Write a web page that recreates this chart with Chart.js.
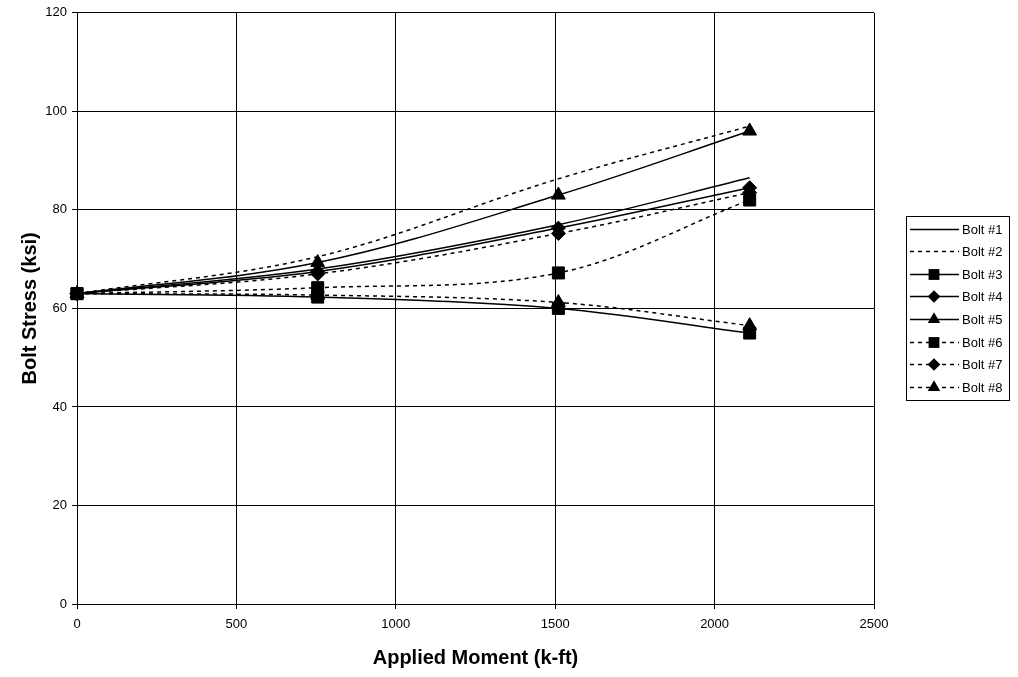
<!DOCTYPE html>
<html>
<head>
<meta charset="utf-8">
<script src="https://cdn.jsdelivr.net/npm/chart.js@4/dist/chart.umd.min.js"></script>
<style>
  html, body { margin: 0; padding: 0; background: #fff; }
  canvas { display: block; }
</style>
</head>
<body>
<canvas id="boltChart" width="1018" height="677"></canvas>
<script>
// applied moment (k-ft) at each load step
const moments = [0, 755, 1510, 2110];

// bolt stress (ksi) per bolt
const bolt1 = [63, 68, 77, 86.5];
const bolt2 = [63, 70.5, 86.3, 97];
const bolt3 = [63, 62.3, 60, 55];
const bolt4 = [63, 67.5, 76.3, 84.5];
const bolt5 = [63, 69.3, 83, 96];
const bolt6 = [63, 64.2, 67.2, 82];
const bolt7 = [63, 67, 75.2, 83.5];
const bolt8 = [63, 62.7, 61.2, 56.5];

const boltLabels = ['Bolt #1', 'Bolt #2', 'Bolt #3', 'Bolt #4', 'Bolt #5', 'Bolt #6', 'Bolt #7', 'Bolt #8'];
const xTicks = [0, 500, 1000, 1500, 2000, 2500];
const yTicks = [0, 20, 40, 60, 80, 100, 120];

const FONT = '"Liberation Sans", Arial, sans-serif';
const dotted = [4, 4];

// style per bolt: dash pattern and marker
const styles = [
    { dash: [], marker: false },
    { dash: dotted, marker: false },
    { dash: [], marker: 'rect', r: 8.5 },
    { dash: [], marker: 'rectRot', r: 7 },
    { dash: [], marker: 'triangle', r: 8 },
    { dash: dotted, marker: 'rect', r: 8.5 },
    { dash: dotted, marker: 'rectRot', r: 7 },
    { dash: dotted, marker: 'triangle', r: 8 }
];

const series = [bolt1, bolt2, bolt3, bolt4, bolt5, bolt6, bolt7, bolt8];

const datasets = series.map((vals, i) => ({
    label: boltLabels[i],
    data: vals.map((v, j) => ({ x: moments[j], y: v })),
    borderColor: '#000',
    backgroundColor: '#000',
    borderWidth: 1.5,
    borderDash: styles[i].dash,
    tension: 0.35,
    fill: false,
    clip: false,
    pointStyle: styles[i].marker || 'circle',
    pointRadius: styles[i].marker ? styles[i].r : 0,
    pointHoverRadius: styles[i].marker ? styles[i].r : 0,
    pointBorderWidth: 1,
    pointBorderColor: '#000',
    pointBackgroundColor: '#000'
}));

// draw one marker by hand for the legend
function drawMarker(ctx, style, r, x, y) {
    ctx.beginPath();
    if (style === 'rect') {
        const s = Math.SQRT1_2 * r;
        ctx.rect(x - s, y - s, 2 * s, 2 * s);
    } else if (style === 'rectRot') {
        ctx.moveTo(x, y - r);
        ctx.lineTo(x + r, y);
        ctx.lineTo(x, y + r);
        ctx.lineTo(x - r, y);
        ctx.closePath();
    } else if (style === 'triangle') {
        ctx.moveTo(x, y - r);
        ctx.lineTo(x + r * 0.866, y + r * 0.5);
        ctx.lineTo(x - r * 0.866, y + r * 0.5);
        ctx.closePath();
    }
    ctx.fill();
}

const boxLegend = {
    id: 'boxLegend',
    afterDraw(chart) {
        const ctx = chart.ctx;
        const left = 906, top = 216, width = 103, height = 184, rowH = 22.6;
        ctx.save();
        ctx.strokeStyle = '#000';
        ctx.lineWidth = 1;
        ctx.strokeRect(left + 0.5, top + 0.5, width, height);
        ctx.font = '13px ' + FONT;
        ctx.textBaseline = 'middle';
        ctx.fillStyle = '#000';
        boltLabels.forEach((label, i) => {
            const y = Math.round(228.5 + rowH * i) + 0.5;
            ctx.lineWidth = 1.5;
            ctx.setLineDash(styles[i].dash);
            ctx.beginPath();
            ctx.moveTo(910, y);
            ctx.lineTo(959, y);
            ctx.stroke();
            ctx.setLineDash([]);
            if (styles[i].marker) drawMarker(ctx, styles[i].marker, styles[i].r * 0.9, 934, y);
            ctx.fillText(label, 962, y + 1);
        });
        ctx.restore();
    }
};

const whiteBg = {
    id: 'whiteBg',
    beforeDraw(chart) {
        const ctx = chart.ctx;
        ctx.save();
        ctx.fillStyle = '#fff';
        ctx.fillRect(0, 0, chart.width, chart.height);
        ctx.restore();
    }
};

new Chart(document.getElementById('boltChart').getContext('2d'), {
    type: 'line',
    data: { datasets: datasets },
    plugins: [whiteBg, boxLegend],
    options: {
        responsive: false,
        animation: false,
        events: [],
        layout: { padding: { top: 12, right: 144, left: 0, bottom: 0 } },
        plugins: {
            legend: { display: false },
            tooltip: { enabled: false },
            title: { display: false }
        },
        scales: {
            x: {
                type: 'linear',
                min: 0,
                max: 2500,
                afterBuildTicks: axis => { axis.ticks = xTicks.map(v => ({ value: v })); },
                afterFit: axis => { axis.height = 73; },
                grid: { color: '#000', lineWidth: 1, tickLength: 5 },
                border: { color: '#000', width: 1 },
                ticks: {
                    color: '#000',
                    font: { family: FONT, size: 13 },
                    padding: 8,
                    maxRotation: 0,
                    callback: v => String(v)
                },
                title: {
                    display: true,
                    text: 'Applied Moment (k-ft)',
                    color: '#000',
                    font: { family: FONT, size: 20, weight: 'bold' },
                    padding: { top: 4, bottom: 7 }
                }
            },
            y: {
                type: 'linear',
                min: 0,
                max: 120,
                afterBuildTicks: axis => { axis.ticks = yTicks.map(v => ({ value: v })); },
                afterFit: axis => { axis.width = 77; },
                grid: { color: '#000', lineWidth: 1, tickLength: 5 },
                border: { color: '#000', width: 1 },
                ticks: {
                    color: '#000',
                    font: { family: FONT, size: 13 },
                    padding: 5,
                    callback: v => String(v)
                },
                title: {
                    display: true,
                    text: 'Bolt Stress (ksi)',
                    color: '#000',
                    font: { family: FONT, size: 20, weight: 'bold' },
                    padding: { top: 18, bottom: 4 }
                }
            }
        }
    }
});
</script>
</body>
</html>
